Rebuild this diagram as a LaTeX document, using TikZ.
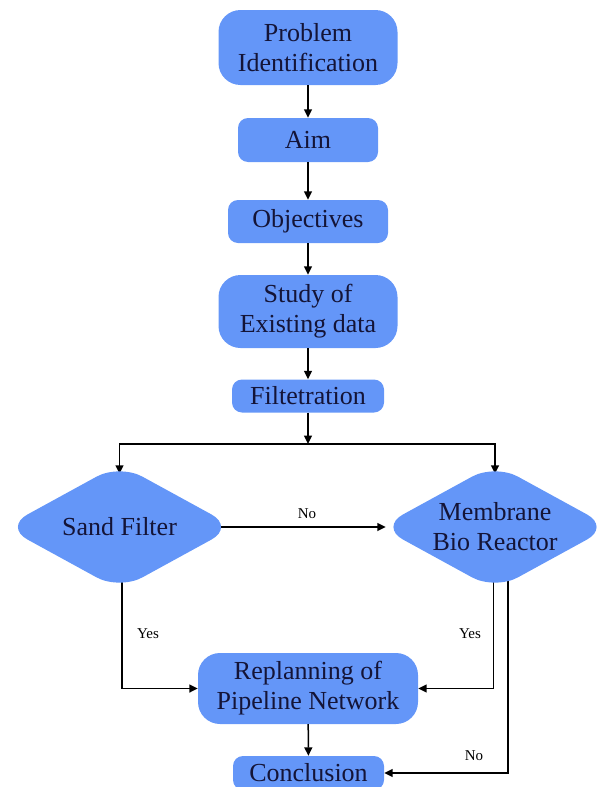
\documentclass[tikz,border=0pt]{standalone}
\usepackage{fontspec}
\setmainfont{Liberation Serif}
\newfontfamily\tnr{Liberation Serif}
\usetikzlibrary{shapes.geometric,arrows.meta,backgrounds}
\definecolor{boxblue}{RGB}{100,150,248}
\definecolor{txt}{RGB}{20,20,55}
\begin{document}
\begin{tikzpicture}[x=1pt,y=-1pt,
  box/.style={fill=boxblue, draw=none, inner sep=0pt, align=center, text=txt, font=\tnr\fontsize{26}{30}\selectfont},
  bigbox/.style={box, rounded corners=22pt},
  smallbox/.style={box, rounded corners=10pt},
  dec/.style={diamond, fill=boxblue, draw=none, inner sep=0pt, minimum width=230pt, minimum height=126pt, aspect=1.83, rounded corners=26pt},
  dectext/.style={align=center, text=txt, font=\tnr\fontsize{26}{30}\selectfont, inner sep=0pt},
  arr/.style={line width=1.5pt, -{Triangle[length=8.5pt,width=8pt]}},
  lbl/.style={font=\tnr\fontsize{15}{18}\selectfont, text=black, inner sep=0pt}
]
\useasboundingbox (0,0) rectangle (601,787);
\node[bigbox, minimum width=179pt, minimum height=75pt] (pi) at (308,47.5) {Problem\\Identification};
\node[smallbox, minimum width=140pt, minimum height=44pt] (aim) at (308,140) {Aim};
\node[smallbox, minimum width=160pt, minimum height=43pt] (obj) at (308,221.5) {Objectives};
\node[bigbox, minimum width=179pt, minimum height=73pt] (study) at (308,311.5) {Study of\\Existing data};
\node[smallbox, minimum width=152pt, minimum height=33pt] (filt) at (308,396) {Filtetration};
\coordinate (split) at (308,444);
\node[dec, label={[dectext]center:Sand Filter}] (sf) at (119.5,527) {};
\node[dec, label={[dectext]center:{Membrane\\Bio Reactor}}] (mbr) at (495,527) {};
\node[bigbox, minimum width=220pt, minimum height=71pt] (rep) at (308,688.5) {Replanning of\\Pipeline Network};
\node[smallbox, minimum width=151pt, minimum height=34pt] (conc) at (308.5,773) {Conclusion};

\draw[arr] (pi) -- (aim);
\draw[arr] (aim) -- (obj);
\draw[arr] (obj) -- (study);
\draw[arr] (study) -- (filt);
\draw[arr] (filt) -- (split);
\draw[arr] (rep) -- (conc);

\begin{pgfonlayer}{background}
\draw[arr, shorten >=-10pt] (split) -| (sf.north);
\draw[arr, shorten >=-10pt] (split) -| (mbr.north);
\draw[arr] (sf.center) -- ([xshift=6pt]mbr.west);
\draw[arr] ([xshift=2.5pt]sf.center) |- (rep.west);
\draw[arr] ([xshift=-1.5pt]mbr.center) |- (rep.east);
\draw[arr] ([xshift=13pt]mbr.center) |- (conc.east);
\end{pgfonlayer}

\node[lbl] (no1) at (307,514) {No};
\node[lbl] (yes1) at (148,634) {Yes};
\node[lbl] (yes2) at (470,634) {Yes};
\node[lbl] (no2) at (474,756) {No};
\end{tikzpicture}
\end{document}
